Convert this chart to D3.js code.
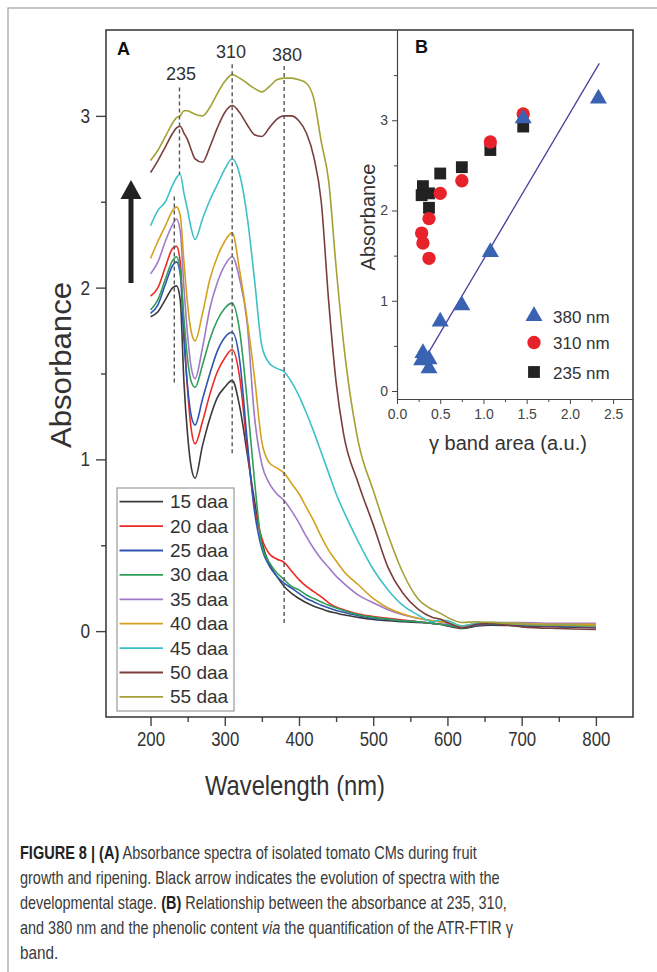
<!DOCTYPE html>
<html>
<head>
<meta charset="utf-8">
<script src="https://cdn.jsdelivr.net/npm/d3@7"></script>
<style>
  body { margin: 0; background: #fff; }
  svg text { font-family: "Liberation Sans", Arial, Helvetica, sans-serif; }
</style>
</head>
<body>
<svg id="fig" width="657" height="972"></svg>
<script>
// ---- panel A: absorbance spectra ----
const wavelength = [200, 210, 220, 230, 235, 240, 245, 250, 255, 260, 270, 280, 290, 300, 310, 320, 330, 340, 350, 360,
  370, 380, 390, 400, 410, 420, 430, 440, 450, 460, 480, 500, 520, 540, 560, 580, 590, 600, 620, 640, 660, 700, 750, 800];

const daa15 = [1.83, 1.86, 1.93, 2.00, 2.01, 1.93, 1.45, 1.14, 0.95, 0.89, 1.08, 1.24, 1.36, 1.42, 1.46, 1.31, 1.04, 0.76, 0.52, 0.39,
  0.32, 0.26, 0.22, 0.19, 0.165, 0.145, 0.13, 0.115, 0.105, 0.095, 0.08, 0.068, 0.06, 0.055, 0.05, 0.045, 0.04, 0.03, 0.015, 0.03, 0.035, 0.03, 0.025, 0.02];
const daa20 = [1.95, 2.00, 2.12, 2.23, 2.24, 2.15, 1.75, 1.40, 1.17, 1.09, 1.22, 1.38, 1.51, 1.59, 1.64, 1.48, 1.08, 0.72, 0.54, 0.45,
  0.42, 0.40, 0.35, 0.30, 0.26, 0.23, 0.20, 0.165, 0.14, 0.125, 0.10, 0.085, 0.075, 0.065, 0.055, 0.045, 0.04, 0.035, 0.02, 0.035, 0.04, 0.035, 0.03, 0.025];
const daa25 = [1.85, 1.90, 2.02, 2.13, 2.15, 2.08, 1.70, 1.42, 1.25, 1.20, 1.35, 1.50, 1.63, 1.71, 1.74, 1.58, 1.12, 0.70, 0.48, 0.38,
  0.32, 0.28, 0.25, 0.22, 0.19, 0.17, 0.15, 0.135, 0.12, 0.11, 0.09, 0.075, 0.068, 0.06, 0.055, 0.045, 0.04, 0.035, 0.02, 0.035, 0.04, 0.035, 0.03, 0.025];
const daa30 = [1.87, 1.93, 2.05, 2.16, 2.18, 2.10, 1.82, 1.58, 1.45, 1.42, 1.55, 1.70, 1.81, 1.88, 1.91, 1.75, 1.35, 0.88, 0.50, 0.40,
  0.34, 0.30, 0.26, 0.24, 0.21, 0.19, 0.17, 0.15, 0.135, 0.12, 0.095, 0.08, 0.07, 0.06, 0.055, 0.045, 0.04, 0.035, 0.02, 0.04, 0.045, 0.04, 0.035, 0.03];
const daa35 = [2.08, 2.15, 2.27, 2.37, 2.40, 2.33, 2.00, 1.72, 1.53, 1.47, 1.65, 1.88, 2.03, 2.13, 2.18, 2.05, 1.80, 1.25, 0.97, 0.86,
  0.80, 0.76, 0.70, 0.63, 0.55, 0.48, 0.42, 0.37, 0.32, 0.28, 0.21, 0.165, 0.125, 0.095, 0.075, 0.06, 0.055, 0.045, 0.03, 0.045, 0.05, 0.05, 0.045, 0.045];
const daa40 = [2.17, 2.27, 2.36, 2.45, 2.47, 2.42, 2.15, 1.90, 1.74, 1.69, 1.85, 2.05, 2.18, 2.27, 2.32, 2.10, 1.82, 1.48, 1.10, 0.98,
  0.95, 0.92, 0.86, 0.80, 0.72, 0.64, 0.55, 0.47, 0.41, 0.35, 0.27, 0.19, 0.135, 0.10, 0.075, 0.06, 0.055, 0.05, 0.03, 0.045, 0.05, 0.045, 0.04, 0.04];
const daa45 = [2.36, 2.45, 2.50, 2.60, 2.64, 2.66, 2.55, 2.45, 2.34, 2.28, 2.40, 2.51, 2.60, 2.69, 2.75, 2.66, 2.42, 2.05, 1.66, 1.56,
  1.53, 1.51, 1.45, 1.37, 1.27, 1.16, 1.04, 0.92, 0.80, 0.70, 0.52, 0.36, 0.24, 0.15, 0.095, 0.055, 0.065, 0.06, 0.03, 0.045, 0.05, 0.04, 0.035, 0.03];
const daa50 = [2.67, 2.74, 2.82, 2.90, 2.93, 2.94, 2.90, 2.86, 2.80, 2.75, 2.73, 2.82, 2.93, 3.02, 3.06, 3.02, 2.95, 2.89, 2.88, 2.93,
  2.98, 3.00, 3.00, 2.97, 2.90, 2.76, 2.50, 1.92, 1.45, 1.15, 0.86, 0.62, 0.37, 0.22, 0.13, 0.08, 0.07, 0.05, 0.02, 0.04, 0.045, 0.025, 0.015, 0.01];
const daa55 = [2.74, 2.80, 2.88, 2.96, 2.99, 3.00, 3.03, 3.03, 3.02, 3.01, 3.00, 3.05, 3.13, 3.20, 3.24, 3.22, 3.19, 3.16, 3.14, 3.17,
  3.21, 3.22, 3.22, 3.21, 3.19, 3.10, 2.85, 2.62, 2.12, 1.68, 1.10, 0.82, 0.56, 0.34, 0.19, 0.125, 0.105, 0.08, 0.05, 0.055, 0.05, 0.04, 0.035, 0.03];

const stageLabels = ["15 daa", "20 daa", "25 daa", "30 daa", "35 daa", "40 daa", "45 daa", "50 daa", "55 daa"];
const stageColors = ["#3a3a3a", "#ec2a25", "#2f55b4", "#2e9e58", "#a079c9", "#d4a11e", "#3ec1c6", "#7b3e3e", "#a3a135"];

const xTicks = [200, 300, 400, 500, 600, 700, 800];
const xMinor = [250, 350, 450, 550, 650, 750];
const yTicks = [0, 1, 2, 3];
const yMinor = [0.5, 1.5, 2.5];

// dashed guide lines: wavelength, upper and lower absorbance
const guideNm = [239, 232, 310, 380];
const guideTop = [3.165, 2.53, 3.30, 3.29];
const guideBottom = [2.66, 1.44, 1.03, 0.03];
const peakLabels = ["235", "310", "380"];

// ---- panel B: absorbance vs gamma band area ----
const gammaArea = [0.37, 0.30, 0.285, 0.37, 0.50, 0.75, 1.08, 1.46, 2.33];
const absAt235 = [2.03, 2.27, 2.17, 2.19, 2.41, 2.48, 2.67, 2.93, null];
const absAt310 = [1.47, 1.64, 1.75, 1.91, 2.19, 2.33, 2.76, 3.07, null];
const absAt380 = [0.25, 0.42, 0.34, 0.35, 0.77, 0.95, 1.54, 3.02, 3.24];
const fitX = [0.30, 2.34];
const fitY = [0.32, 3.63];
const insetXTicks = [0, 0.5, 1.0, 1.5, 2.0, 2.5];
const insetXMinor = [0.25, 0.75, 1.25, 1.75, 2.25];
const insetYTicks = [0, 1, 2, 3];
const insetYMinor = [0.5, 1.5, 2.5, 3.5];

const spectra = [daa15, daa20, daa25, daa30, daa35, daa40, daa45, daa50, daa55];

// squeeze a text a bit, the figure uses a narrow face
function narrow(sel, k) {
  sel.each(function () {
    const w = this.getComputedTextLength();
    this.setAttribute('textLength', w * k);
    this.setAttribute('lengthAdjust', 'spacingAndGlyphs');
  });
}

const svg = d3.select('#fig');

// light frame round the figure
svg.append('rect')
  .attr('x', 8).attr('y', 8).attr('width', 720).attr('height', 1000)
  .attr('fill', 'none').attr('stroke', '#a0a0a0').attr('stroke-width', 1.2);

const pL = 106, pT = 30, pR = 633, pB = 717;

const x = d3.scaleLinear().domain([140, 850]).range([pL, pR]);
const y = d3.scaleLinear().domain([-0.5, 3.5]).range([pB, pT]);

// y axis
const yAx = svg.append('g').attr('transform', `translate(${pL},0)`)
  .call(d3.axisLeft(y).tickValues(yTicks).tickSize(10).tickSizeOuter(0).tickPadding(6).tickFormat(d3.format('d')));
svg.append('g').attr('transform', `translate(${pL},0)`)
  .call(d3.axisLeft(y).tickValues(yMinor).tickSize(5).tickSizeOuter(0).tickFormat(''));

// x axis
const xAx = svg.append('g').attr('transform', `translate(0,${pB})`)
  .call(d3.axisBottom(x).tickValues(xTicks).tickSize(9).tickSizeOuter(0).tickPadding(4));
svg.append('g').attr('transform', `translate(0,${pB})`)
  .call(d3.axisBottom(x).tickValues(xMinor).tickSize(5).tickSizeOuter(0).tickFormat(''));

svg.selectAll('.domain').remove();
svg.selectAll('.tick line').attr('stroke', '#333').attr('stroke-width', 1.4);
yAx.selectAll('text').attr('font-size', 20).attr('fill', '#333').attr('dy', '0.33em');
xAx.selectAll('text').attr('font-size', 20).attr('fill', '#333').attr('dy', '0.78em');
narrow(yAx.selectAll('text'), 0.86);
narrow(xAx.selectAll('text'), 0.84);

// spectra
const line = d3.line()
  .x((d, i) => x(wavelength[i]))
  .y(d => y(d))
  .curve(d3.curveMonotoneX);

svg.append('g').selectAll('path')
  .data(spectra)
  .join('path')
  .attr('d', line)
  .attr('fill', 'none')
  .attr('stroke', (d, i) => stageColors[i])
  .attr('stroke-width', 1.6);

// dashed guides
svg.append('g').selectAll('line')
  .data(guideNm)
  .join('line')
  .attr('x1', d => x(d)).attr('x2', d => x(d))
  .attr('y1', (d, i) => y(guideTop[i]))
  .attr('y2', (d, i) => y(guideBottom[i]))
  .attr('stroke', '#555')
  .attr('stroke-width', 1.4)
  .attr('stroke-dasharray', '4,3');

svg.append('g').selectAll('text')
  .data(peakLabels)
  .join('text')
  .attr('x', (d, i) => [181, 231, 287][i])
  .attr('y', (d, i) => [80, 58, 61][i])
  .attr('text-anchor', 'middle')
  .attr('font-size', 18)
  .attr('fill', '#333')
  .text(d => d);

// frame of panel A
svg.append('rect')
  .attr('x', pL).attr('y', pT).attr('width', pR - pL).attr('height', pB - pT)
  .attr('fill', 'none').attr('stroke', '#333').attr('stroke-width', 1.5);

// arrow
svg.append('rect').attr('x', 128.5).attr('y', 196).attr('width', 5).attr('height', 87).attr('fill', '#222');
svg.append('path').attr('d', 'M131,180 L120.5,199 L141.5,199 Z').attr('fill', '#222');

// legend
const lg = svg.append('g');
lg.append('rect')
  .attr('x', 117).attr('y', 488).attr('width', 117).attr('height', 223)
  .attr('fill', '#fff').attr('stroke', '#9a9a9a').attr('stroke-width', 1.2);
const item = lg.selectAll('g.item')
  .data(stageLabels)
  .join('g')
  .attr('class', 'item')
  .attr('transform', (d, i) => `translate(0,${501.7 + i * 24.4})`);
item.append('line')
  .attr('x1', 119.5).attr('x2', 163)
  .attr('stroke', (d, i) => stageColors[i]).attr('stroke-width', 1.8);
item.append('text')
  .attr('x', 170).attr('y', 6.5)
  .attr('font-size', 19).attr('fill', '#333')
  .text(d => d);

// axis titles
svg.append('text')
  .attr('transform', 'translate(71,365) rotate(-90)')
  .attr('text-anchor', 'middle')
  .attr('font-size', 30).attr('fill', '#333')
  .attr('textLength', 166).attr('lengthAdjust', 'spacingAndGlyphs')
  .text('Absorbance');
svg.append('text')
  .attr('x', 295).attr('y', 795)
  .attr('text-anchor', 'middle')
  .attr('font-size', 28).attr('fill', '#333')
  .attr('textLength', 180).attr('lengthAdjust', 'spacingAndGlyphs')
  .text('Wavelength (nm)');

svg.append('text').attr('x', 117).attr('y', 55)
  .attr('font-size', 18).attr('font-weight', 'bold').attr('fill', '#111').text('A');

// ---- inset B ----
const xi = d3.scaleLinear().domain([0, 2.73]).range([397, 633]);
const yi = d3.scaleLinear().domain([-0.0886, 4.0]).range([399, 30]);

const bY = svg.append('g').attr('transform', 'translate(397,0)')
  .call(d3.axisLeft(yi).tickValues(insetYTicks).tickSize(5).tickSizeOuter(0).tickPadding(4).tickFormat(d3.format('d')));
svg.append('g').attr('transform', 'translate(397,0)')
  .call(d3.axisLeft(yi).tickValues(insetYMinor).tickSize(3).tickSizeOuter(0).tickFormat(''))
  .select('.domain').remove();
const bX = svg.append('g').attr('transform', 'translate(0,399)')
  .call(d3.axisBottom(xi).tickValues(insetXTicks).tickSize(5).tickSizeOuter(0).tickPadding(5).tickFormat(d3.format('.1f')));
svg.append('g').attr('transform', 'translate(0,399)')
  .call(d3.axisBottom(xi).tickValues(insetXMinor).tickSize(3).tickSizeOuter(0).tickFormat(''))
  .select('.domain').remove();

[bY, bX].forEach(g => {
  g.select('.domain').attr('stroke', '#444').attr('stroke-width', 1.2);
  g.selectAll('text').attr('font-size', 14).attr('fill', '#444');
});
svg.selectAll('.tick line').attr('stroke', '#444');

// fit line
svg.append('line')
  .attr('x1', xi(fitX[0])).attr('y1', yi(fitY[0]))
  .attr('x2', xi(fitX[1])).attr('y2', yi(fitY[1]))
  .attr('stroke', '#4a3f9c').attr('stroke-width', 1.3);

const markerSets = [
  { vals: absAt380, sym: d3.symbolTriangle, size: 125, color: '#3a62b2', label: '380 nm' },
  { vals: absAt310, sym: d3.symbolCircle, size: 140, color: '#e8222b', label: '310 nm' },
  { vals: absAt235, sym: d3.symbolSquare, size: 140, color: '#222222', label: '235 nm' }
];

// draw squares first, circles, then triangles on top
markerSets.slice().reverse().forEach(m => {
  svg.append('g').selectAll('path')
    .data(gammaArea.map((g, i) => [g, m.vals[i]]).filter(d => d[1] != null))
    .join('path')
    .attr('transform', d => `translate(${xi(d[0])},${yi(d[1])})`)
    .attr('d', d3.symbol().type(m.sym).size(m.size))
    .attr('fill', m.color);
});

// inset legend
const bl = svg.append('g').selectAll('g')
  .data(markerSets)
  .join('g')
  .attr('transform', (d, i) => `translate(534,${[316, 342.5, 372][i]})`);
bl.append('path')
  .attr('d', d => d3.symbol().type(d.sym).size(d.size)())
  .attr('fill', d => d.color);
bl.append('text')
  .attr('x', 19).attr('y', 6.5)
  .attr('font-size', 17).attr('fill', '#333')
  .text(d => d.label);

svg.append('text')
  .attr('transform', 'translate(375,217) rotate(-90)')
  .attr('text-anchor', 'middle')
  .attr('font-size', 20).attr('fill', '#333')
  .text('Absorbance');
svg.append('text')
  .attr('x', 508).attr('y', 450)
  .attr('text-anchor', 'middle')
  .attr('font-size', 20).attr('fill', '#333')
  .text('γ band area (a.u.)');

svg.append('text').attr('x', 415).attr('y', 53)
  .attr('font-size', 18).attr('font-weight', 'bold').attr('fill', '#111').text('B');

// ---- caption: each piece is its own text, squeezed with a scale ----
const caption = [
  [["FIGURE 8 | (A)", 'b'], [" Absorbance spectra of isolated tomato CMs during fruit", '']],
  [["growth and ripening. Black arrow indicates the evolution of spectra with the", '']],
  [["developmental stage.", ''], [" ", ''], ["(B)", 'b'], [" Relationship between the absorbance at 235, 310,", '']],
  [["and 380 nm and the phenolic content", ''], [" ", ''], ["via", 'i'], [" the quantification of the ATR-FTIR γ", '']],
  [["band.", '']]
];
const captionWidth = [457, 480, 487, 493, null];

const cap = svg.append('g');
caption.forEach((parts, li) => {
  const baseY = 859 + li * 25;
  const pieces = parts.map(p => {
    const t = cap.append('text')
      .attr('x', 0).attr('y', 0)
      .attr('font-size', 18).attr('fill', '#3a3a3a')
      .style('white-space', 'pre')
      .text(p[0]);
    if (p[1] === 'b') t.attr('font-weight', 'bold').attr('fill', '#222');
    if (p[1] === 'i') t.attr('font-style', 'italic');
    return { t, w: t.node().getComputedTextLength(), blank: p[0].trim() === '' };
  });
  const total = d3.sum(pieces, d => d.w);
  const k = captionWidth[li] ? captionWidth[li] / total : 0.85;
  let cx = 20;
  pieces.forEach(p => {
    if (p.blank) p.t.remove();
    else p.t.attr('transform', `translate(${cx},${baseY}) scale(${k},1)`);
    cx += p.w * k;
  });
});
</script>
</body>
</html>
